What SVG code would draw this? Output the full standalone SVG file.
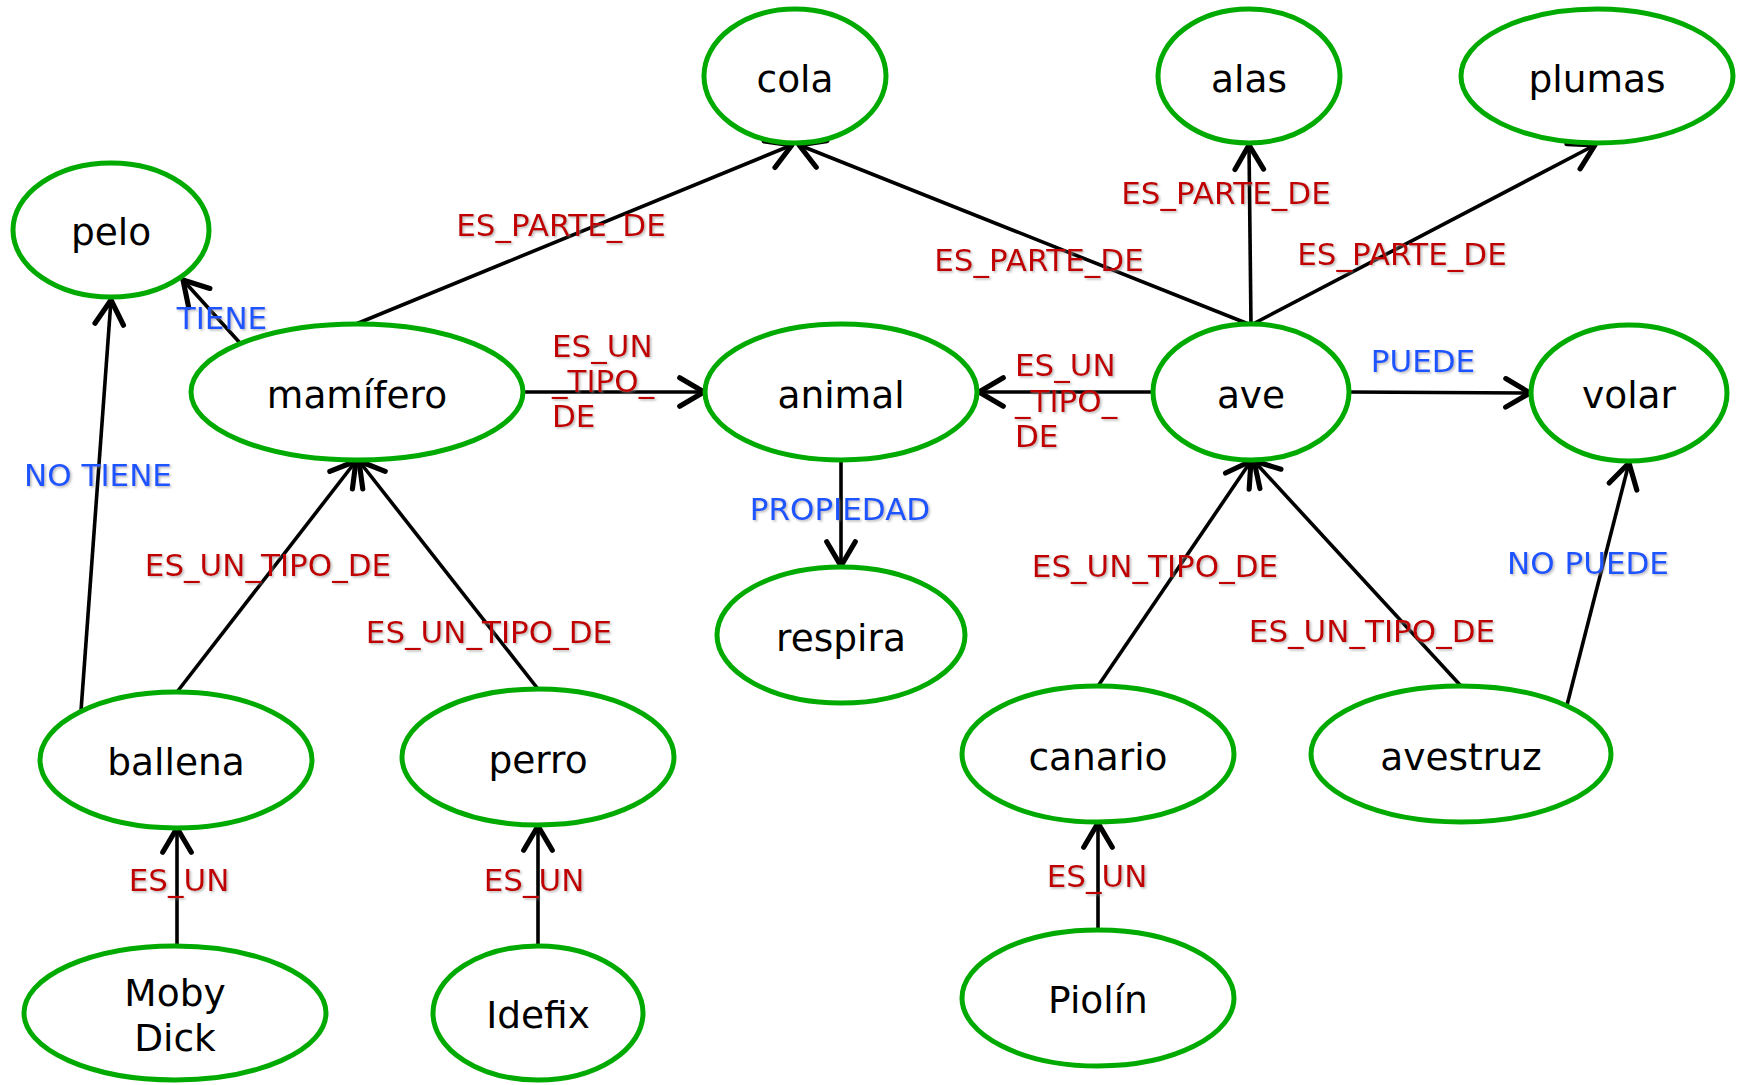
<svg xmlns="http://www.w3.org/2000/svg" width="1741" height="1085" viewBox="0 0 1741 1085">
<defs>
<marker id="arr" markerUnits="userSpaceOnUse" markerWidth="40" markerHeight="40" viewBox="-22 -14 26 28" refX="0" refY="0" orient="auto">
<path d="M -17 -10 L 0 0 L -17 10" fill="none" stroke="#000" stroke-width="3.6" stroke-linecap="round" stroke-linejoin="round"/>
</marker>
<filter id="sh" x="-10%" y="-20%" width="120%" height="150%">
<feDropShadow dx="1.5" dy="1.5" stdDeviation="1" flood-color="#888" flood-opacity="0.6"/>
</filter>
</defs>
<style>
.n ellipse{fill:#fff;stroke:#00aa00;stroke-width:5}
.n text{font-family:"DejaVu Sans",Verdana,sans-serif;font-size:37.5px;fill:#000;text-anchor:middle;dominant-baseline:central}
.c line{stroke:#000;stroke-width:3.6;marker-end:url(#arr)}
.l text{font-family:"DejaVu Sans",Verdana,sans-serif;font-size:31px;dominant-baseline:central;filter:url(#sh)}
.r{fill:#c00000}
.b{fill:#1f55ff}
.m{text-anchor:middle}
</style>
<g id="connectors" class="c">
<line x1="356" y1="324" x2="792" y2="145"/>
<line x1="1251" y1="325" x2="799" y2="145"/>
<line x1="1251" y1="325" x2="1249" y2="145"/>
<line x1="1251" y1="325" x2="1595" y2="145"/>
<line x1="240" y1="343" x2="183" y2="280"/>
<line x1="81" y1="711" x2="111" y2="300"/>
<line x1="523" y1="392" x2="704" y2="392"/>
<line x1="1154" y1="392" x2="979" y2="392"/>
<line x1="1349" y1="392" x2="1530" y2="393"/>
<line x1="841" y1="460" x2="841" y2="566"/>
<line x1="177" y1="692" x2="356" y2="461"/>
<line x1="538" y1="689" x2="359" y2="461"/>
<line x1="1098" y1="686" x2="1251" y2="461"/>
<line x1="1461" y1="686" x2="1254" y2="461"/>
<line x1="1567" y1="705" x2="1629" y2="463"/>
<line x1="177" y1="946" x2="177" y2="828"/>
<line x1="538" y1="946" x2="538" y2="826"/>
<line x1="1098" y1="930" x2="1098" y2="823"/>
</g>
<g id="labels" class="l">
<text class="r m" x="561" y="225">ES_PARTE_DE</text>
<text class="r m" x="1039" y="260">ES_PARTE_DE</text>
<text class="r m" x="1226" y="193">ES_PARTE_DE</text>
<text class="r m" x="1402" y="254">ES_PARTE_DE</text>
<text class="b m" x="222" y="318">TIENE</text>
<text class="b m" x="98" y="475">NO TIENE</text>
<text class="r" x="552" y="346">ES_UN</text>
<text class="r" x="552" y="381">_TIPO_</text>
<text class="r" x="552" y="416">DE</text>
<text class="r" x="1015" y="365">ES_UN</text>
<text class="r" x="1015" y="401">_TIPO_</text>
<text class="r" x="1015" y="436">DE</text>
<text class="b m" x="1423" y="361">PUEDE</text>
<text class="b m" x="840" y="509">PROPIEDAD</text>
<text class="r m" x="268" y="565">ES_UN_TIPO_DE</text>
<text class="r m" x="489" y="632">ES_UN_TIPO_DE</text>
<text class="r m" x="1155" y="566">ES_UN_TIPO_DE</text>
<text class="r m" x="1372" y="631">ES_UN_TIPO_DE</text>
<text class="b m" x="1588" y="563">NO PUEDE</text>
<text class="r m" x="179" y="880">ES_UN</text>
<text class="r m" x="534" y="880">ES_UN</text>
<text class="r m" x="1097" y="876">ES_UN</text>
</g>
<g id="cola" class="n"><ellipse cx="795" cy="76" rx="91" ry="67"/><text x="795" y="79">cola</text></g>
<g id="alas" class="n"><ellipse cx="1249" cy="76" rx="91" ry="67"/><text x="1249" y="79">alas</text></g>
<g id="plumas" class="n"><ellipse cx="1597" cy="76" rx="136" ry="67"/><text x="1597" y="79">plumas</text></g>
<g id="pelo" class="n"><ellipse cx="111" cy="230" rx="98" ry="67"/><text x="111" y="232">pelo</text></g>
<g id="mamifero" class="n"><ellipse cx="357" cy="392" rx="166" ry="68"/><text x="357" y="395">mamífero</text></g>
<g id="animal" class="n"><ellipse cx="841" cy="392" rx="136" ry="68"/><text x="841" y="395">animal</text></g>
<g id="ave" class="n"><ellipse cx="1251" cy="392" rx="98" ry="68"/><text x="1251" y="395">ave</text></g>
<g id="volar" class="n"><ellipse cx="1629" cy="393" rx="98" ry="68"/><text x="1629" y="395">volar</text></g>
<g id="respira" class="n"><ellipse cx="841" cy="635" rx="124" ry="68"/><text x="841" y="638">respira</text></g>
<g id="ballena" class="n"><ellipse cx="176" cy="760" rx="136" ry="68"/><text x="176" y="762">ballena</text></g>
<g id="perro" class="n"><ellipse cx="538" cy="757" rx="136" ry="68"/><text x="538" y="760">perro</text></g>
<g id="canario" class="n"><ellipse cx="1098" cy="754" rx="136" ry="68"/><text x="1098" y="757">canario</text></g>
<g id="avestruz" class="n"><ellipse cx="1461" cy="754" rx="150" ry="68"/><text x="1461" y="757">avestruz</text></g>
<g id="mobydick" class="n"><ellipse cx="175" cy="1013" rx="151" ry="67"/><text x="175" y="993">Moby</text><text x="175" y="1038">Dick</text></g>
<g id="idefix" class="n"><ellipse cx="538" cy="1013" rx="105" ry="67"/><text x="538" y="1015">Idefix</text></g>
<g id="piolin" class="n"><ellipse cx="1098" cy="998" rx="136" ry="68"/><text x="1098" y="1000">Piolín</text></g>
</svg>
